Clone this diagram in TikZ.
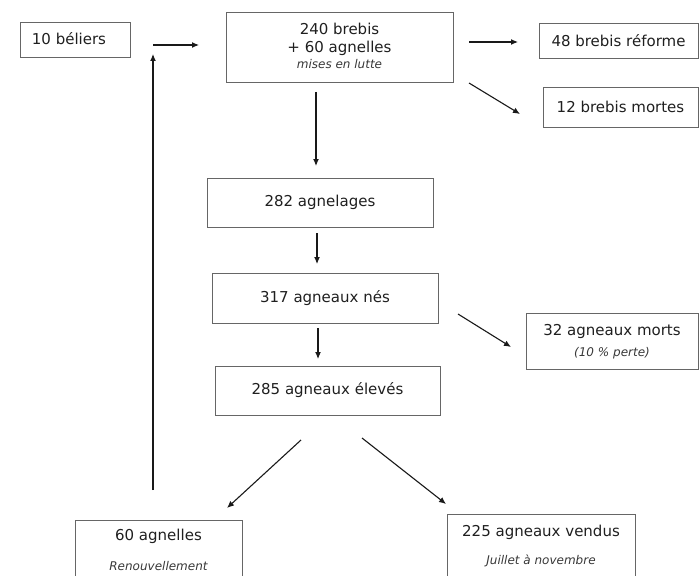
\documentclass[tikz,border=0pt]{standalone}
\usepackage{fontspec}
\setmainfont{DejaVu Sans}
\usetikzlibrary{arrows.meta}
\begin{document}
\begin{tikzpicture}[x=1pt,y=-1pt,
  box/.style={draw=black!60, line width=0.8pt, rectangle, inner sep=0pt, text=black!88,
    font=\fontsize{15}{18}\selectfont},
  lbl/.style={anchor=base, inner sep=0pt, text=black!88, font=\fontsize{15}{18}\selectfont},
  sub/.style={anchor=base, inner sep=0pt, text=black!78, font=\fontsize{12}{14}\selectfont\itshape},
  arr/.style={draw=black!90, line width=1.1pt, -{Latex[length=7pt,width=6pt]}}]
\useasboundingbox (0,0) rectangle (700,575);
\clip (0,0) rectangle (700,575);
% boxes
\node[box, minimum width=110, minimum height=35] (bel) at (75,39.5) {};
\node[lbl] (tbel) at (69,45) {10 béliers};
\node[box, minimum width=227, minimum height=70.5] (brebis) at (339.5,47.5) {};
\node[lbl] (t240) at (339.5,34.3) {240 brebis};
\node[lbl] (t60) at (339.5,52.7) {+ 60 agnelles};
\node[sub] (tml) at (339.5,68.3) {mises en lutte};
\node[box, minimum width=159, minimum height=35] (ref) at (618.5,40.5) {48 brebis réforme};
\node[box, minimum width=155, minimum height=40] (mor) at (620.5,107) {12 brebis mortes};
\node[box, minimum width=226, minimum height=49] (agl) at (320,202.5) {282 agnelages};
\node[box, minimum width=226, minimum height=50] (nes) at (325,298) {317 agneaux nés};
\node[box, minimum width=225, minimum height=49] (ele) at (327.5,390.5) {285 agneaux élevés};
\node[box, minimum width=172, minimum height=56] (am) at (612,341) {};
\node[lbl] (t32) at (612,335) {32 agneaux morts};
\node[sub] (tpe) at (612,356.7) {(10 \% perte)};
\node[box, minimum width=167, minimum height=70] (agn) at (158.5,555) {};
\node[lbl] (t60a) at (158.5,540.7) {60 agnelles};
\node[sub] (tren) at (158.5,570) {Renouvellement};
\node[box, minimum width=188, minimum height=70] (ven) at (541,549) {};
\node[lbl] (t225) at (541,536) {225 agneaux vendus};
\node[sub] (tjui) at (541,564) {Juillet à novembre};
% arrow end points
\coordinate (a1s) at (153,45);   \coordinate (a1e) at (199,45);
\coordinate (a2s) at (153,490);  \coordinate (a2e) at (153,54);
\coordinate (a3s) at (469,42);   \coordinate (a3e) at (518,42);
\coordinate (a4s) at (469,83);   \coordinate (a4e) at (520,114);
\coordinate (a5s) at (316,92);   \coordinate (a5e) at (316,166);
\coordinate (a6s) at (317,233);  \coordinate (a6e) at (317,264);
\coordinate (a7s) at (318,328);  \coordinate (a7e) at (318,359);
\coordinate (a8s) at (458,314);  \coordinate (a8e) at (511,347);
\coordinate (a9s) at (301,440);  \coordinate (a9e) at (227,508);
\coordinate (a10s) at (362,438); \coordinate (a10e) at (446,504);
% arrows
\draw[arr] (a1s) -- (a1e);
\draw[arr] (a2s) -- (a2e);
\draw[arr] (a3s) -- (a3e);
\draw[arr] (a4s) -- (a4e);
\draw[arr] (a5s) -- (a5e);
\draw[arr] (a6s) -- (a6e);
\draw[arr] (a7s) -- (a7e);
\draw[arr] (a8s) -- (a8e);
\draw[arr] (a9s) -- (a9e);
\draw[arr] (a10s) -- (a10e);
\end{tikzpicture}
\end{document}
